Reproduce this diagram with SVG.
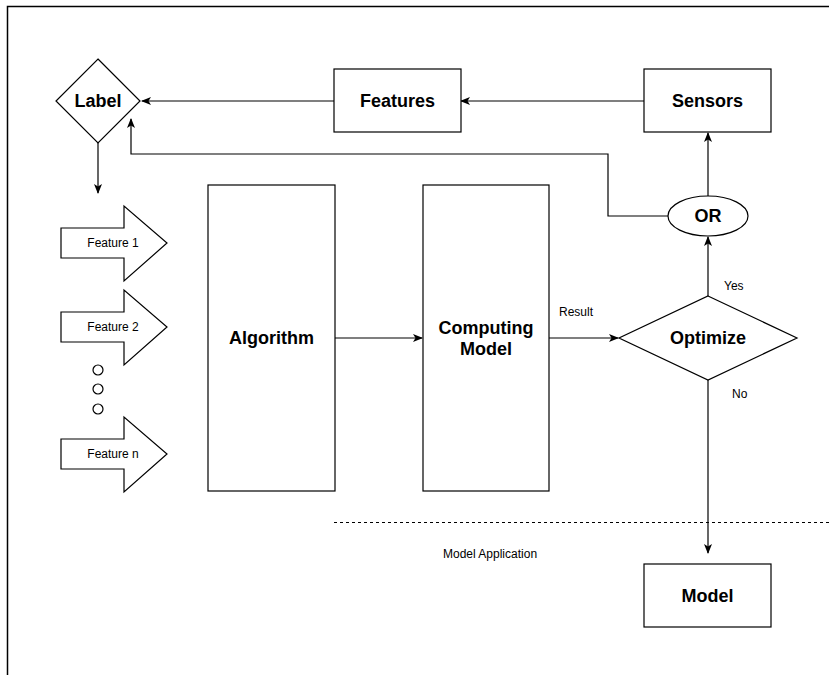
<svg xmlns="http://www.w3.org/2000/svg" width="829" height="675" viewBox="0 0 829 675">
  <style>
    .shape { fill: #ffffff; stroke: #000000; stroke-width: 1.2; }
    .edge { fill: none; stroke: #000000; stroke-width: 1.2; }
    .bold { font-family: "Liberation Sans", Arial, Helvetica, sans-serif; font-size: 18px; font-weight: bold; fill: #000000; text-anchor: middle; dominant-baseline: central; }
    .small { font-family: "Liberation Sans", Arial, Helvetica, sans-serif; font-size: 12px; fill: #000000; }
    .mid { text-anchor: middle; dominant-baseline: central; }
  </style>
  <defs>
    <marker id="arrow" viewBox="0 0 10 8" refX="9" refY="4" markerWidth="10" markerHeight="8" markerUnits="userSpaceOnUse" orient="auto">
      <path d="M0,0 L10,4 L0,8 L2.5,4 z" fill="#000000"/>
    </marker>
  </defs>

  <rect width="829" height="675" fill="#ffffff"/>
  <!-- page frame -->
  <path d="M7.5,675 V6.5 H829" fill="none" stroke="#000000" stroke-width="1.5"/>

  <!-- connectors -->
  <g id="connectors">
    <path class="edge" d="M334,101 H142" marker-end="url(#arrow)"/>
    <path class="edge" d="M644,101 H461" marker-end="url(#arrow)"/>
    <path class="edge" d="M98,143 V193" marker-end="url(#arrow)"/>
    <path class="edge" d="M668,216 H608 V154 H131 V119" marker-end="url(#arrow)"/>
    <path class="edge" d="M708,196 V133" marker-end="url(#arrow)"/>
    <path class="edge" d="M708,296 V237" marker-end="url(#arrow)"/>
    <path class="edge" d="M335,338 H422" marker-end="url(#arrow)"/>
    <path class="edge" d="M549,338 H618" marker-end="url(#arrow)"/>
    <path class="edge" d="M708,380 V553" marker-end="url(#arrow)"/>
    <path d="M334,522.5 H829" fill="none" stroke="#000000" stroke-width="1" stroke-dasharray="3 3"/>
  </g>

  <!-- edge labels -->
  <text class="small" x="559" y="316">Result</text>
  <text class="small" x="724" y="290">Yes</text>
  <text class="small" x="732" y="398">No</text>
  <text class="small" x="443" y="558">Model Application</text>

  <g id="label">
    <polygon class="shape" points="98,59 140,101 98,143 56,101"/>
    <text class="bold" x="98" y="101">Label</text>
  </g>

  <g id="features">
    <rect class="shape" x="334" y="69" width="127" height="63"/>
    <text class="bold" x="397.5" y="101">Features</text>
  </g>

  <g id="sensors">
    <rect class="shape" x="644" y="69" width="127" height="63"/>
    <text class="bold" x="707.5" y="101">Sensors</text>
  </g>

  <g id="or">
    <ellipse class="shape" cx="708" cy="216" rx="40" ry="20"/>
    <text class="bold" x="708" y="216">OR</text>
  </g>

  <g id="algorithm">
    <rect class="shape" x="208" y="185" width="127" height="306"/>
    <text class="bold" x="271.5" y="338">Algorithm</text>
  </g>

  <g id="computing-model">
    <rect class="shape" x="423" y="185" width="126" height="306"/>
    <text class="bold" x="486" y="328">Computing</text>
    <text class="bold" x="486" y="349">Model</text>
  </g>

  <g id="optimize">
    <polygon class="shape" points="708,296 797,338 708,380 619,338"/>
    <text class="bold" x="708" y="338">Optimize</text>
  </g>

  <g id="model">
    <rect class="shape" x="644" y="564" width="127" height="63"/>
    <text class="bold" x="707.5" y="596">Model</text>
  </g>

  <g id="feature-1">
    <polygon class="shape" points="61,228 124,228 124,206 167,243 124,281 124,258 61,258"/>
    <text class="small mid" x="113" y="243">Feature 1</text>
  </g>

  <g id="feature-2">
    <polygon class="shape" points="61,312 124,312 124,290 167,327 124,365 124,342 61,342"/>
    <text class="small mid" x="113" y="327">Feature 2</text>
  </g>

  <g id="ellipsis">
    <circle class="shape" cx="98" cy="370" r="5"/>
    <circle class="shape" cx="98" cy="389" r="5"/>
    <circle class="shape" cx="98" cy="409" r="5"/>
  </g>

  <g id="feature-n">
    <polygon class="shape" points="61,439 124,439 124,417 167,454 124,492 124,469 61,469"/>
    <text class="small mid" x="113" y="454">Feature n</text>
  </g>
</svg>
